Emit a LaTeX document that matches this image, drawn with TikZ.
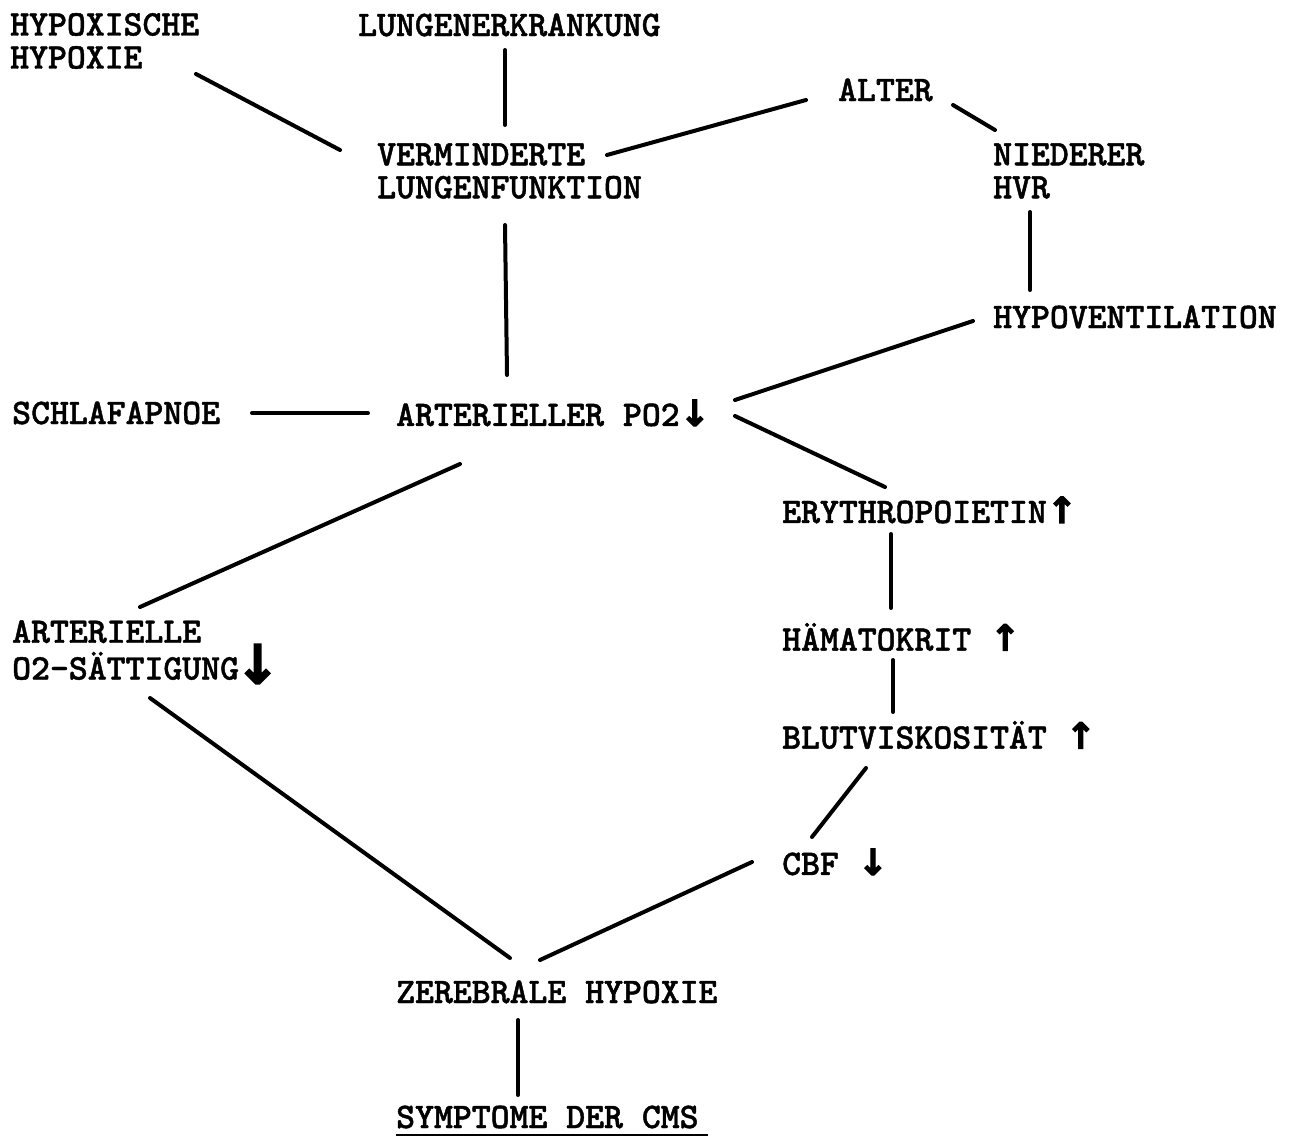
\documentclass[tikz,border=0pt]{standalone}
\usepackage{fontspec}
\newfontfamily\arr{DejaVu Sans}[FakeBold=3]
\newfontfamily\tw{lmmonolt10-bold.otf}[FakeBold=1.2]
\newcommand{\dn}{{\arr\bfseries\fontsize{36}{36}\selectfont ↓}}
\newcommand{\up}{{\arr\bfseries\fontsize{36}{36}\selectfont ↑}}
\begin{document}
\begin{tikzpicture}[x=1pt,y=-1pt,
  lbl/.style={anchor=west,inner sep=0pt,align=left,font=\tw\fontsize{36}{33}\selectfont},
  conn/.style={line width=4pt,line cap=round}]
\useasboundingbox[fill=white] (0,0) rectangle (1302,1140);
\node[lbl] (hyp) at (10,41) {HYPOXISCHE\\HYPOXIE};
\node[lbl] (lung) at (358,25) {LUNGENERKRANKUNG};
\node[lbl] (alter) at (838,90) {ALTER};
\node[lbl] (verm) at (377,171) {VERMINDERTE\\LUNGENFUNKTION};
\node[lbl] (nied) at (993,171) {NIEDERER\\HVR};
\node[lbl] (hypov) at (993,317) {HYPOVENTILATION};
\node[lbl] (schlaf) at (12,413) {SCHLAFAPNOE};
\node[lbl] (po2) at (396,413) {ARTERIELLER PO2\dn};
\node[lbl] (ery) at (782,510) {ERYTHROPOIETIN\up};
\node[lbl] (art) at (12,652) {ARTERIELLE\\O2-SÄTTIGUNG\kern-4pt\raisebox{-4pt}{\arr\bfseries\fontsize{54}{54}\selectfont ↓}};
\node[lbl] (haem) at (782,637) {HÄMATOKRIT \up};
\node[lbl] (blut) at (782,735) {BLUTVISKOSITÄT \up};
\node[lbl] (cbf) at (782,862) {CBF \dn};
\node[lbl] (zer) at (396,992) {ZEREBRALE HYPOXIE};
\node[lbl] (sym) at (396,1117) {SYMPTOME DER CMS};
\draw[line width=2.5pt] ([shift={(0,18)}]sym.west) -- ([shift={(312,18)}]sym.west);
\draw[conn] ([shift={(186,33)}]hyp.west) -- ([shift={(-37,-21)}]verm.west);
\draw[conn] ([shift={(147,25)}]lung.west) -- ([shift={(128,-46)}]verm.west);
\draw[conn] ([shift={(-32,10)}]alter.west) -- ([shift={(230,-16)}]verm.west);
\draw[conn] ([shift={(115,15)}]alter.west) -- ([shift={(2,-41)}]nied.west);
\draw[conn] ([shift={(128,54)}]verm.west) -- ([shift={(111,-38)}]po2.west);
\draw[conn] ([shift={(37,41)}]nied.west) -- ([shift={(37,-27)}]hypov.west);
\draw[conn] ([shift={(-20,4)}]hypov.west) -- ([shift={(339,-13)}]po2.west);
\draw[conn] ([shift={(240,0)}]schlaf.west) -- ([shift={(-28,0)}]po2.west);
\draw[conn] ([shift={(339,3)}]po2.west) -- ([shift={(103,-23)}]ery.west);
\draw[conn] ([shift={(64,51)}]po2.west) -- ([shift={(128,-45)}]art.west);
\draw[conn] ([shift={(109,24)}]ery.west) -- ([shift={(109,-29)}]haem.west);
\draw[conn] ([shift={(111,23)}]haem.west) -- ([shift={(111,-23)}]blut.west);
\draw[conn] ([shift={(84,33)}]blut.west) -- ([shift={(30,-25)}]cbf.west);
\draw[conn] ([shift={(-30,0)}]cbf.west) -- ([shift={(144,-32)}]zer.west);
\draw[conn] ([shift={(138,46)}]art.west) -- ([shift={(114,-34)}]zer.west);
\draw[conn] ([shift={(122,28)}]zer.west) -- ([shift={(122,-22)}]sym.west);
\end{tikzpicture}
\end{document}
